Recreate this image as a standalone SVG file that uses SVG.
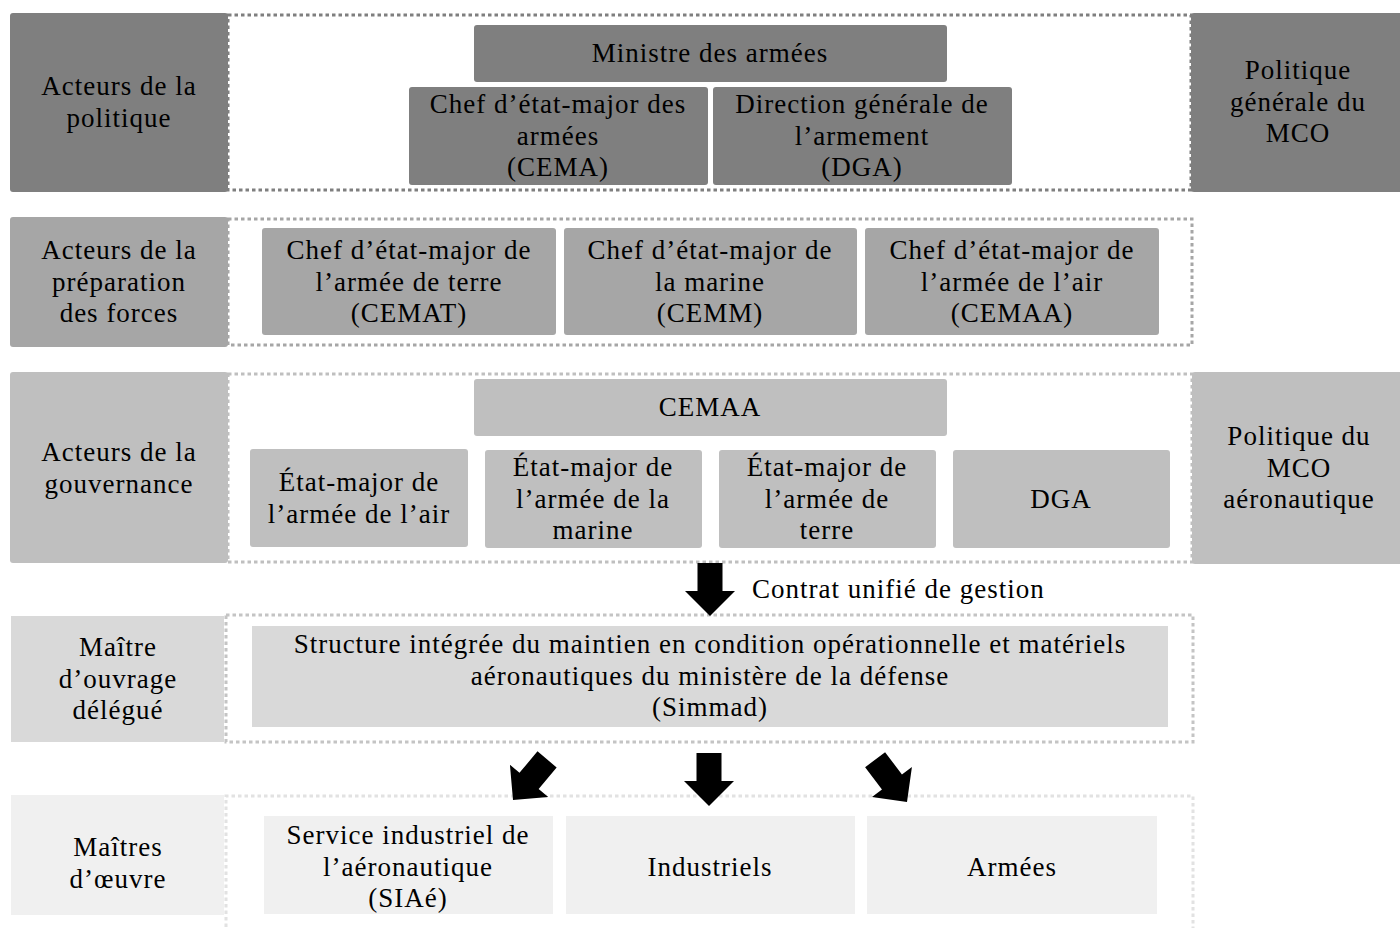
<svg xmlns="http://www.w3.org/2000/svg" width="1400" height="928" viewBox="0 0 1400 928">
<style>
text{font-family:"Liberation Serif","Times New Roman",serif;font-size:27px;letter-spacing:1px;fill:#000;text-anchor:middle}
.r1{fill:#7f7f7f}.r2{fill:#a6a6a6}.r3{fill:#bfbfbf}.r4{fill:#d9d9d9}.r5{fill:#f0f0f0}
.f{fill:none;stroke-width:3;stroke-dasharray:3.5 3}
.f1{stroke:#7f7f7f}.f2{stroke:#a6a6a6}.f3{stroke:#bfbfbf}.f4{stroke:#c4c4c4}.f5{stroke:#e2e2e2}
.arr{fill:#000}
</style>
<defs>
<path id="dn" d="M-12.5,-53 H12.5 V-25 H25 L0,0 L-25,-25 H-12.5 Z"/>
</defs>
<g id="frames">
<rect class="f f1" x="228" y="15" width="963" height="175"/>
<rect class="f f2" x="228" y="219" width="964" height="126"/>
<rect class="f f3" x="228" y="374" width="964" height="188"/>
<rect class="f f4" x="226" y="615" width="967" height="127"/>
<path class="f f5" d="M226,940 V796 H1193 V940"/>
</g>
<g id="row1-label"><rect class="r1" x="10" y="13" width="218" height="179" rx="3"/><text x="119" y="95">Acteurs de la</text><text x="119" y="127">politique</text></g>
<g id="row1-right"><rect class="r1" x="1191" y="13" width="215" height="179" rx="3"/><text x="1298" y="79">Politique</text><text x="1298" y="111">générale du</text><text x="1298" y="142">MCO</text></g>
<g id="ministre"><rect class="r1" x="474" y="25" width="473" height="57" rx="3"/><text x="710" y="62">Ministre des armées</text></g>
<g id="cema"><rect class="r1" x="409" y="87" width="299" height="98" rx="3"/><text x="558" y="113">Chef d’état-major des</text><text x="558" y="145">armées</text><text x="558" y="176">(CEMA)</text></g>
<g id="dga1"><rect class="r1" x="713" y="87" width="299" height="98" rx="3"/><text x="862" y="113">Direction générale de</text><text x="862" y="145">l’armement</text><text x="862" y="176">(DGA)</text></g>

<g id="row2-label"><rect class="r2" x="10" y="217" width="218" height="130" rx="3"/><text x="119" y="259">Acteurs de la</text><text x="119" y="291">préparation</text><text x="119" y="322">des forces</text></g>
<g id="cemat"><rect class="r2" x="262" y="228" width="294" height="107" rx="3"/><text x="409" y="259">Chef d’état-major de</text><text x="409" y="291">l’armée de terre</text><text x="409" y="322">(CEMAT)</text></g>
<g id="cemm"><rect class="r2" x="564" y="228" width="293" height="107" rx="3"/><text x="710" y="259">Chef d’état-major de</text><text x="710" y="291">la marine</text><text x="710" y="322">(CEMM)</text></g>
<g id="cemaa1"><rect class="r2" x="865" y="228" width="294" height="107" rx="3"/><text x="1012" y="259">Chef d’état-major de</text><text x="1012" y="291">l’armée de l’air</text><text x="1012" y="322">(CEMAA)</text></g>

<g id="row3-label"><rect class="r3" x="10" y="372" width="218" height="191" rx="3"/><text x="119" y="461">Acteurs de la</text><text x="119" y="493">gouvernance</text></g>
<g id="row3-right"><rect class="r3" x="1192" y="372" width="214" height="192" rx="3"/><text x="1299" y="445">Politique du</text><text x="1299" y="477">MCO</text><text x="1299" y="508">aéronautique</text></g>
<g id="cemaa2"><rect class="r3" x="474" y="379" width="473" height="57" rx="3"/><text x="710" y="416">CEMAA</text></g>
<g id="ema-air"><rect class="r3" x="250" y="449" width="218" height="98" rx="3"/><text x="359" y="491">État-major de</text><text x="359" y="523">l’armée de l’air</text></g>
<g id="ema-marine"><rect class="r3" x="485" y="450" width="217" height="98" rx="3"/><text x="593" y="476">État-major de</text><text x="593" y="508">l’armée de la</text><text x="593" y="539">marine</text></g>
<g id="ema-terre"><rect class="r3" x="719" y="450" width="217" height="98" rx="3"/><text x="827" y="476">État-major de</text><text x="827" y="508">l’armée de</text><text x="827" y="539">terre</text></g>
<g id="dga2"><rect class="r3" x="953" y="450" width="217" height="98" rx="3"/><text x="1061" y="508">DGA</text></g>

<g id="row4-label"><rect class="r4" x="11" y="616" width="213" height="126"/><text x="118" y="656">Maître</text><text x="118" y="688">d’ouvrage</text><text x="118" y="719">délégué</text></g>
<g id="simmad"><rect class="r4" x="252" y="626" width="916" height="101"/><text x="710" y="653">Structure intégrée du maintien en condition opérationnelle et matériels</text><text x="710" y="685">aéronautiques du ministère de la défense</text><text x="710" y="716">(Simmad)</text></g>

<g id="row5-label"><rect class="r5" x="11" y="795" width="213" height="120"/><text x="118" y="856">Maîtres</text><text x="118" y="888">d’œuvre</text></g>
<g id="siae"><rect class="r5" x="264" y="816" width="289" height="98"/><text x="408" y="844">Service industriel de</text><text x="408" y="876">l’aéronautique</text><text x="408" y="907">(SIAé)</text></g>
<g id="industriels"><rect class="r5" x="566" y="816" width="289" height="98"/><text x="710" y="876">Industriels</text></g>
<g id="armees"><rect class="r5" x="867" y="816" width="290" height="98"/><text x="1012" y="876">Armées</text></g>

<g id="connectors">
<use href="#dn" class="arr" transform="translate(710,616)"/>
<text x="752" y="598" style="text-anchor:start">Contrat unifié de gestion</text>
<use href="#dn" class="arr" transform="translate(709,806)"/>
<use href="#dn" class="arr" transform="translate(513,800) rotate(40)"/>
<use href="#dn" class="arr" transform="translate(907,802) rotate(-37)"/>
</g>
</svg>
